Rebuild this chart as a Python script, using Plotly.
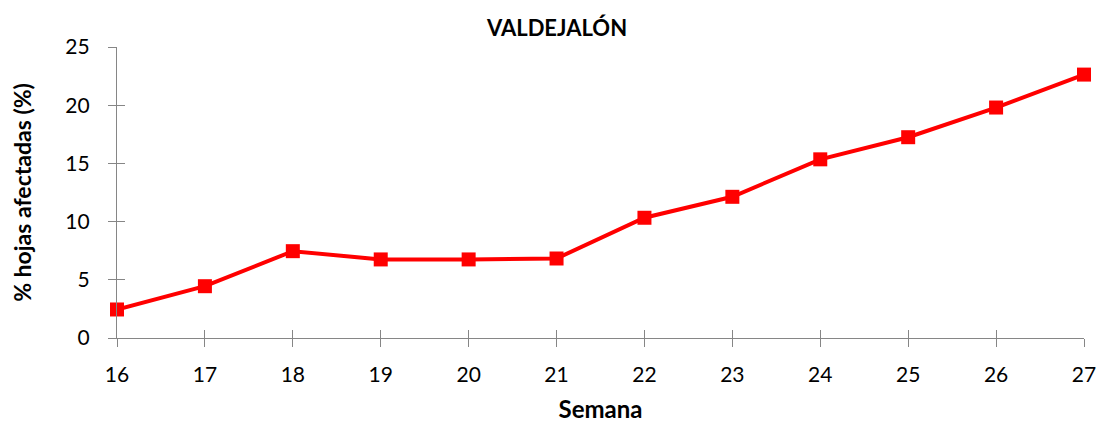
import plotly.graph_objects as go

semana = [16, 17, 18, 19, 20, 21, 22, 23, 24, 25, 26, 27]
afectadas = [2.45, 4.45, 7.46, 6.75, 6.75, 6.83, 10.33, 12.13, 15.35, 17.25, 19.8, 22.63]
x_ticks = semana
y_ticks = [0, 5, 10, 15, 20, 25]

AX = "#868686"
FONT = "Lato"
W, H = 1099, 423

fig = go.Figure()
fig.add_trace(go.Scatter(
    x=semana, y=afectadas, mode="lines+markers",
    line=dict(color="#FF0000", width=4),
    marker=dict(symbol="square", size=14, color="#FF0000"),
    showlegend=False, cliponaxis=False,
))
# invisible trace on overlay axes to enable inner half of crossing ticks
fig.add_trace(go.Scatter(x=[semana[0]], y=[afectadas[0]], xaxis="x2", yaxis="y2",
                         mode="markers", marker=dict(opacity=0), showlegend=False,
                         hoverinfo="skip"))

fig.update_layout(
    width=W, height=H,
    margin=dict(l=117, r=15, t=47, b=85, autoexpand=False),
    paper_bgcolor="white", plot_bgcolor="white",
    font=dict(family=FONT, color="black"),
    title=dict(text="<b>VALDEJALÓN</b>", x=557/W, xanchor="center",
               y=1-28/H, yanchor="middle", font=dict(size=22, family=FONT)),
    xaxis=dict(range=[16, 27], tickvals=x_ticks, showgrid=False, zeroline=False,
               automargin=False,
               showline=True, linecolor=AX, linewidth=1.3,
               ticks="outside", ticklen=8, tickcolor=AX, tickwidth=1.3,
               ticklabelstandoff=10,
               tickfont=dict(size=21, family=FONT),
               title=dict(text="<b>Semana</b>", font=dict(size=24, family=FONT), standoff=16)),
    yaxis=dict(range=[0, 25], tickvals=y_ticks, showgrid=False, zeroline=False,
               automargin=False,
               showline=True, linecolor=AX, linewidth=1.3,
               ticks="outside", ticklen=8, tickcolor=AX, tickwidth=1.3,
               ticklabelstandoff=14,
               tickfont=dict(size=21, family=FONT),
               title=dict(text="<b>% hojas afectadas (%)</b>", font=dict(size=23, family=FONT), standoff=27)),
    xaxis2=dict(range=[16, 27], tickvals=x_ticks, overlaying="x", showticklabels=False,
                showgrid=False, zeroline=False, showline=False, automargin=False,
                ticks="inside", ticklen=8, tickcolor=AX, tickwidth=1.3, side="bottom", anchor="y2"),
    yaxis2=dict(range=[0, 25], tickvals=y_ticks, overlaying="y", showticklabels=False,
                showgrid=False, zeroline=False, showline=False, automargin=False,
                ticks="inside", ticklen=8, tickcolor=AX, tickwidth=1.3, side="left", anchor="x2"),
)

fig.write_html("out.html", config={"displayModeBar": False},
               post_script="document.body.style.margin='0';document.body.style.overflow='hidden';")
